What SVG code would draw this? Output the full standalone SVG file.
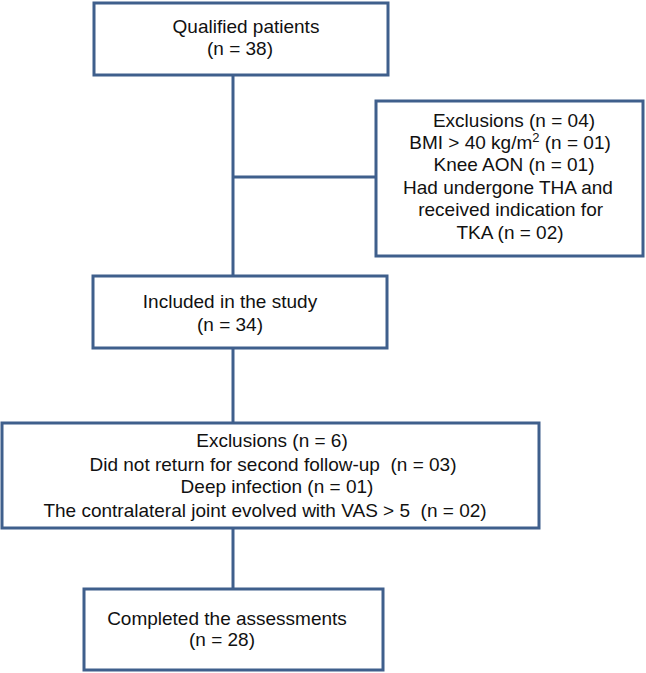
<svg xmlns="http://www.w3.org/2000/svg" width="646" height="673" viewBox="0 0 646 673">
<style>
.box{fill:#ffffff;stroke:#3f5f8c;stroke-width:3}
.con{fill:none;stroke:#3f5f8c;stroke-width:3}
text{font-family:"Liberation Sans",Arial,sans-serif;font-size:19px;fill:#111111;text-anchor:middle;white-space:pre}
</style>
<rect width="646" height="673" fill="#ffffff"/>
<g id="connectors">
<line class="con" x1="233" y1="75" x2="233" y2="276"/>
<line class="con" x1="233" y1="177" x2="376" y2="177"/>
<line class="con" x1="233" y1="348" x2="233" y2="423"/>
<line class="con" x1="233" y1="528" x2="233" y2="589"/>
</g>
<g id="qualified">
<rect class="box" x="94" y="3" width="294" height="72"/>
<text x="246" y="33">Qualified patients</text>
<text x="240" y="55">(n = 38)</text>
</g>
<g id="exclusions1">
<rect class="box" x="376" y="101" width="267" height="155"/>
<text x="514" y="127">Exclusions (n = 04)</text>
<text x="510" y="149">BMI &gt; 40 kg/m<tspan font-size="13" dy="-7">2</tspan><tspan dy="7"> (n = 01)</tspan></text>
<text x="514" y="171">Knee AON (n = 01)</text>
<text x="508" y="194">Had undergone THA and</text>
<text x="508" y="216"> received indication for</text>
<text x="510" y="239">TKA (n = 02)</text>
</g>
<g id="included">
<rect class="box" x="93" y="276" width="294" height="72"/>
<text x="230" y="308">Included in the study</text>
<text x="230" y="331">(n = 34)</text>
</g>
<g id="exclusions2">
<rect class="box" x="2" y="423" width="537" height="105"/>
<text x="272" y="447">Exclusions (n = 6)</text>
<text x="273" y="471">Did not return for second follow-up  (n = 03)</text>
<text x="277" y="493">Deep infection (n = 01)</text>
<text x="265" y="517">The contralateral joint evolved with VAS &gt; 5  (n = 02)</text>
</g>
<g id="completed">
<rect class="box" x="84" y="589" width="299" height="81"/>
<text x="227" y="625">Completed the assessments</text>
<text x="222" y="646">(n = 28)</text>
</g>
</svg>
